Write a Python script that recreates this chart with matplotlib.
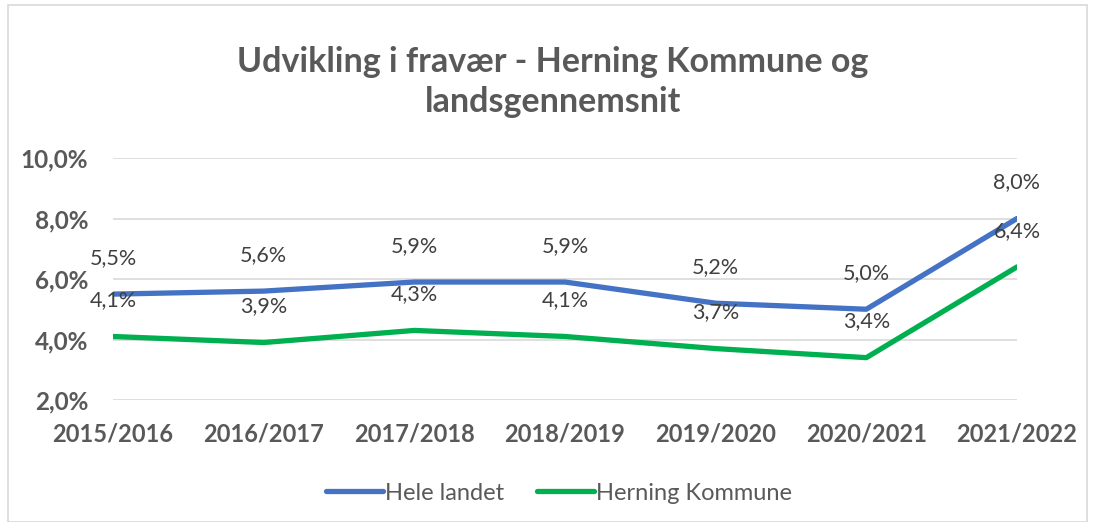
import matplotlib
matplotlib.use("Agg")
import matplotlib.pyplot as plt
from matplotlib.patches import Rectangle

categories = ["2015/2016", "2016/2017", "2017/2018", "2018/2019", "2019/2020", "2020/2021", "2021/2022"]
hele_landet = [5.5, 5.6, 5.9, 5.9, 5.2, 5.0, 8.0]
herning = [4.1, 3.9, 4.3, 4.1, 3.7, 3.4, 6.4]
yticks = [2.0, 4.0, 6.0, 8.0, 10.0]

plt.rcParams['font.family'] = ['Lato', 'DejaVu Sans']

fig = plt.figure(figsize=(10.95, 5.22), dpi=100)
ax = fig.add_axes([113/1095, 1-400/522, (1017-113)/1095, (400-158)/522])

x = list(range(len(categories)))
blue = "#4472C4"
green = "#00B050"
ax.plot(x, hele_landet, color=blue, lw=3.8, solid_capstyle='round', label="Hele landet", zorder=3)
ax.plot(x, herning, color=green, lw=3.8, solid_capstyle='round', label="Herning Kommune", zorder=3)

for xi, v in zip(x, hele_landet):
    ax.annotate(f"{v:.1f}%".replace(".", ","), (xi, v), xytext=(0, 26), textcoords='offset points',
                ha='center', va='center', fontsize=15.5, color="#404040", zorder=4)
for xi, v in zip(x, herning):
    ax.annotate(f"{v:.1f}%".replace(".", ","), (xi, v), xytext=(0, 26), textcoords='offset points',
                ha='center', va='center', fontsize=15.5, color="#404040", zorder=4)

ax.set_xlim(0, len(categories)-1)
ax.set_ylim(2.0, 10.0)
ax.set_yticks(yticks)
ax.set_yticklabels([f"{t:.1f}%".replace(".", ",") for t in yticks])
ax.set_xticks(x)
ax.set_xticklabels(categories)
ax.grid(axis='y', color="#D9D9D9", lw=1.2, zorder=0)
for s in ax.spines.values():
    s.set_visible(False)
ax.tick_params(length=0)
ax.tick_params(axis='y', pad=18, labelsize=17.5, labelcolor="#595959")
ax.tick_params(axis='x', pad=16, labelsize=17, labelcolor="#595959")
for lbl in ax.get_xticklabels() + ax.get_yticklabels():
    lbl.set_fontweight('bold')

fig.text(553/1095, 1-82/522, "Udvikling i fravær - Herning Kommune og\nlandsgennemsnit",
         ha='center', va='center', fontsize=24.5, fontweight='bold', color="#595959", linespacing=1.3)

leg = fig.legend(loc='center', bbox_to_anchor=(559/1095, 1-493/522), ncol=2, frameon=False,
                 fontsize=17, handlelength=2.4, handletextpad=0.1, columnspacing=1.4)
for t in leg.get_texts():
    t.set_color("#595959")
for h in leg.get_lines():
    h.set_solid_capstyle('round')

fig.patches.append(Rectangle((8/1095, 0), 1-16/1095, 1-5/522, transform=fig.transFigure,
                             fill=False, edgecolor="#D9D9D9", lw=1.2))

fig.savefig("out.png", dpi=100)
